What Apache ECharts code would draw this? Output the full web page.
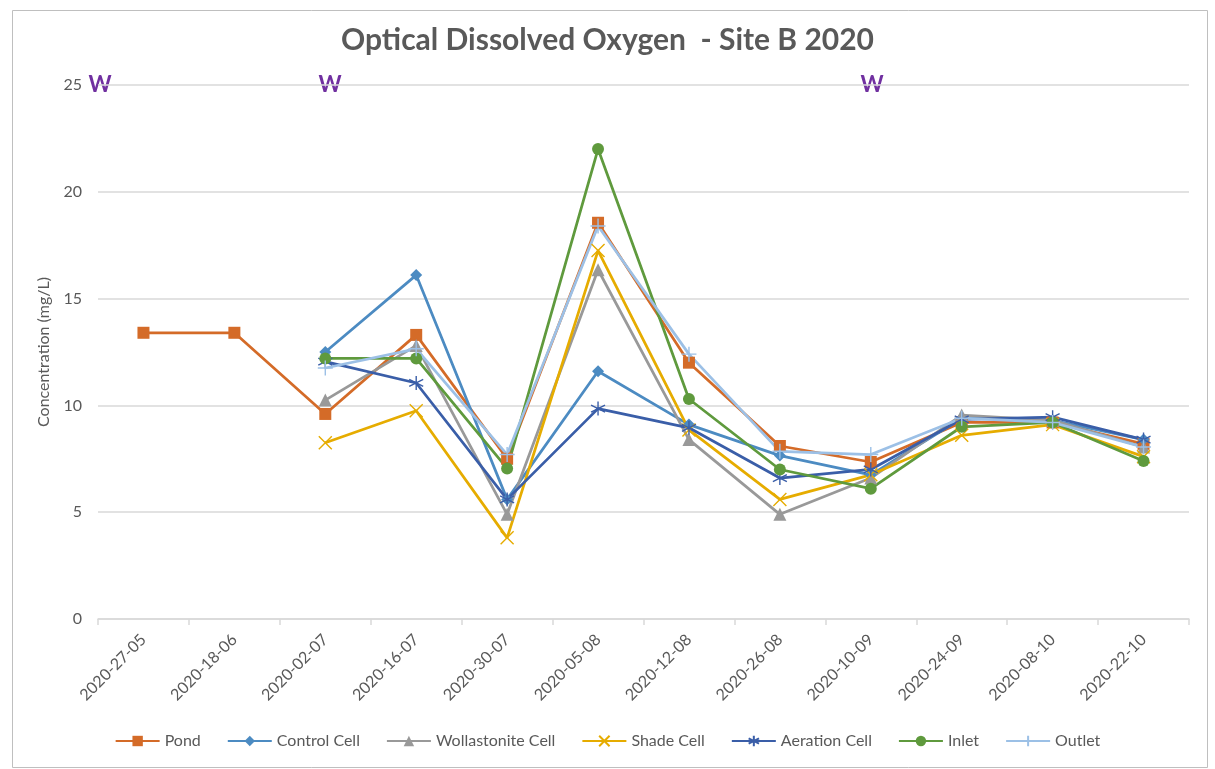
<!DOCTYPE html>
<html lang="en">
<head>
    <meta charset="UTF-8">
    <title>Optical Dissolved Oxygen - Site B 2020</title>
    <script type="text/javascript" src="https://cdn.jsdelivr.net/npm/echarts@6/dist/echarts.min.js"></script>
    <style>
        body { margin: 0; background: #fff; }
    </style>
</head>
<body>
<div id="chart" style="width: 1215px;height:769px;"></div>

<script type="text/javascript">
    // sample dates
    var dates = ['2020-27-05', '2020-18-06', '2020-02-07', '2020-16-07', '2020-30-07', '2020-05-08',
        '2020-12-08', '2020-26-08', '2020-10-09', '2020-24-09', '2020-08-10', '2020-22-10'];

    // values (mg/L)
    var pond = [13.4, 13.4, 9.6, 13.3, 7.5, 18.55, 12.0, 8.1, 7.35, 9.2, 9.2, 8.2];
    var controlCell = [null, null, 12.5, 16.1, 5.6, 11.6, 9.1, 7.65, 6.75, 9.4, 9.3, 8.4];
    var wollastonite = [null, null, 10.25, 12.8, 4.9, 16.35, 8.4, 4.9, 6.6, 9.55, 9.3, 8.05];
    var shadeCell = [null, null, 8.25, 9.75, 3.8, 17.25, 8.85, 5.6, 6.75, 8.6, 9.1, 7.6];
    var aerationCell = [null, null, 12.05, 11.05, 5.6, 9.85, 8.95, 6.6, 7.0, 9.35, 9.45, 8.4];
    var inlet = [null, null, 12.2, 12.2, 7.05, 22.0, 10.3, 7.0, 6.1, 9.0, 9.2, 7.4];
    var outlet = [null, null, 11.75, 12.65, 7.7, 18.4, 12.4, 7.85, 7.7, 9.4, 9.2, 8.05];

    var yTicks = [0, 5, 10, 15, 20, 25];

    var myChart = echarts.init(document.getElementById('chart'));

    var X_PATH = 'path://M0,0L10,10M10,0L0,10';
    var STAR_PATH = 'path://M5,0L5,10M0.7,2.5L9.3,7.5M0.7,7.5L9.3,2.5';
    var PLUS_PATH = 'path://M5,0L5,10M0,5L10,5';

    function mkSeries(name, data, color, symbol, size, hollow) {
        return {
            name: name,
            type: 'line',
            data: data,
            symbol: symbol,
            symbolSize: size,
            showAllSymbol: true,
            connectNulls: false,
            lineStyle: {color: color, width: 2.75},
            itemStyle: hollow ? {color: 'transparent', borderColor: color, borderWidth: 1.4}
                : {color: color},
            emphasis: {disabled: true}
        };
    }

    myChart.setOption({
        animation: false,
        textStyle: {fontFamily: 'Lato, "Open Sans", sans-serif', color: '#595959'},
        title: {
            text: 'Optical Dissolved Oxygen  - Site B 2020',
            left: 'center',
            top: 20,
            textStyle: {fontSize: 30, fontWeight: 'bold', color: '#595959', fontFamily: 'Lato, "Open Sans", sans-serif'}
        },
        grid: {left: 98, right: 26, top: 85, bottom: 150, containLabel: false},
        legend: {
            bottom: 15,
            left: 'center',
            itemWidth: 44,
            itemHeight: 13,
            itemGap: 26,
            textStyle: {fontSize: 16, color: '#595959'},
            data: ['Pond', 'Control Cell', 'Wollastonite Cell', 'Shade Cell', 'Aeration Cell', 'Inlet', 'Outlet']
        },
        xAxis: {
            type: 'category',
            data: dates,
            boundaryGap: true,
            axisLine: {lineStyle: {color: '#d9d9d9', width: 1.5}},
            axisTick: {show: true, length: 6, lineStyle: {color: '#d9d9d9', width: 1.5}},
            axisLabel: {rotate: 45, fontSize: 16, color: '#595959', margin: 18}
        },
        yAxis: {
            type: 'value',
            min: yTicks[0],
            max: yTicks[yTicks.length - 1],
            interval: 5,
            name: 'Concentration (mg/L)',
            nameLocation: 'middle',
            nameGap: 46,
            nameTextStyle: {fontSize: 16, color: '#595959'},
            axisLine: {show: false},
            axisTick: {show: false},
            axisLabel: {fontSize: 16, color: '#595959', margin: 16},
            splitLine: {lineStyle: {color: '#d9d9d9', width: 1.5}}
        },
        graphic: [
            {type: 'rect', left: 10, top: 8, shape: {width: 1195, height: 757},
                style: {fill: 'none', stroke: '#bfbfbf', lineWidth: 1}, silent: true},
            {type: 'text', x: 100, y: 85, style: {text: 'W', fill: '#7030a0', font: 'bold 22px Lato, sans-serif', align: 'center', verticalAlign: 'middle'}},
            {type: 'text', x: 330, y: 85, style: {text: 'W', fill: '#7030a0', font: 'bold 22px Lato, sans-serif', align: 'center', verticalAlign: 'middle'}},
            {type: 'text', x: 872, y: 85, style: {text: 'W', fill: '#7030a0', font: 'bold 22px Lato, sans-serif', align: 'center', verticalAlign: 'middle'}}
        ],
        series: [
            mkSeries('Pond', pond, '#d46b28', 'rect', 12, false),
            mkSeries('Control Cell', controlCell, '#4c8bc2', 'diamond', 12, false),
            mkSeries('Wollastonite Cell', wollastonite, '#999999', 'triangle', 13, false),
            mkSeries('Shade Cell', shadeCell, '#e6ac00', X_PATH, 13, true),
            mkSeries('Aeration Cell', aerationCell, '#3a5ea8', STAR_PATH, 14, true),
            mkSeries('Inlet', inlet, '#5f9a3d', 'circle', 12, false),
            mkSeries('Outlet', outlet, '#9cc0e6', PLUS_PATH, 15, true)
        ]
    });
</script>
</body>
</html>
